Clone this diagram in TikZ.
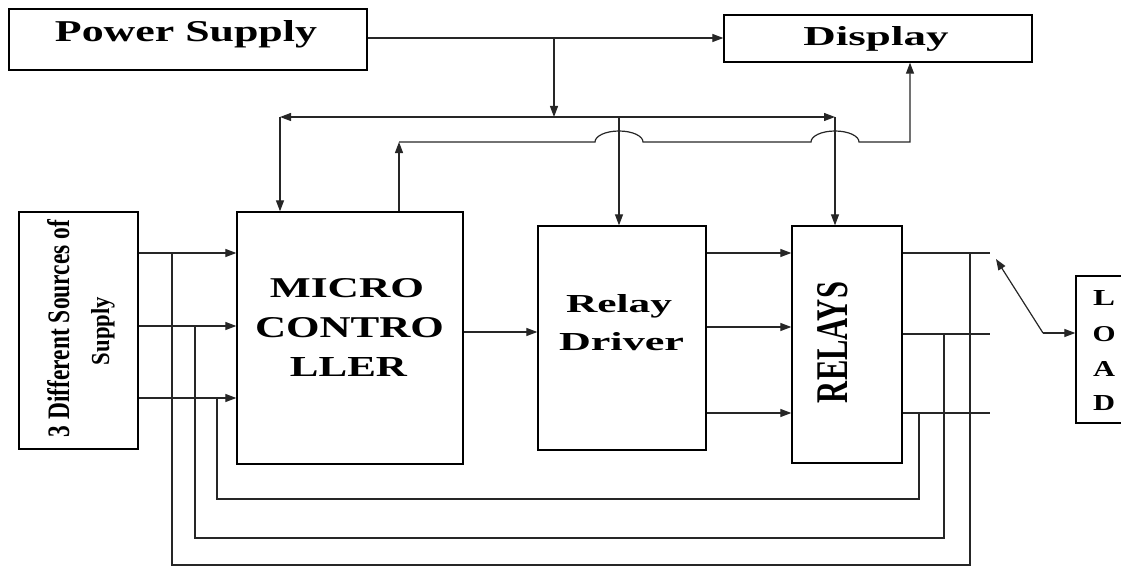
\documentclass[tikz,border=0pt]{standalone}
\usepackage{fontspec}
\setmainfont{Liberation Serif}
\usetikzlibrary{arrows.meta}
\begin{document}
\begin{tikzpicture}[x=1pt,y=-1pt,
  box/.style={draw, line width=1.3pt, inner sep=0pt, anchor=center},
  wire/.style={line width=1.2pt, black!85},
  arr/.style={wire, -{Triangle[length=11pt,width=8pt]}},
  txt/.style={font=\bfseries, inner sep=0pt, anchor=base}]
\useasboundingbox (0,0) rectangle (1121,567);
% boxes
\node[box, minimum width=358pt, minimum height=61pt] (ps) at (188,39.5) {};
\node[box, minimum width=308pt, minimum height=47pt] (disp) at (878,38.5) {};
\node[box, minimum width=119pt, minimum height=237pt] (src) at (78.5,330.5) {};
\node[box, minimum width=226pt, minimum height=252pt] (mc) at (350,338) {};
\node[box, minimum width=168pt, minimum height=224pt] (rd) at (622,338) {};
\node[box, minimum width=110pt, minimum height=237pt] (rel) at (847,344.5) {};
\node[box, minimum width=60pt, minimum height=147pt] (load) at (1106,349.5) {};
% texts
\node[txt] (tps) at (186,42) {\resizebox{262pt}{21pt}{Power Supply}};
\node[txt] (tdisp) at (876,46) {\resizebox{145pt}{19pt}{Display}};
\node[txt] (tmc1) at (347,297) {\resizebox{154pt}{19pt}{MICRO}};
\node[txt] (tmc2) at (349.5,337) {\resizebox{189pt}{20pt}{CONTRO}};
\node[txt] (tmc3) at (348.5,376) {\resizebox{117pt}{19pt}{LLER}};
\node[txt] (trd1) at (619,312) {\resizebox{106pt}{18pt}{Relay}};
\node[txt] (trd2) at (621.5,350) {\resizebox{125pt}{18pt}{Driver}};
\node[txt, rotate=90] (trel) at (847,342.5) {\resizebox{121pt}{30pt}{RELAYS}};
\node[txt, rotate=90] (tsrc1) at (69,328.5) {\resizebox{217pt}{22pt}{3 Different Sources of}};
\node[txt, rotate=90] (tsrc2) at (109,331) {\resizebox{68pt}{18pt}{Supply}};
\node[txt] (tl1) at (1104,305) {\resizebox{22pt}{15pt}{L}};
\node[txt] (tl2) at (1104,341) {\resizebox{23pt}{15pt}{O}};
\node[txt] (tl3) at (1104,376) {\resizebox{22pt}{15pt}{A}};
\node[txt] (tl4) at (1104,410) {\resizebox{22pt}{15pt}{D}};
% coordinates
\coordinate (psj) at (554,38);
\coordinate (busL) at (280,117);
\coordinate (busM) at (554,117);
\coordinate (busD) at (619,117);
\coordinate (busR) at (835,117);
\coordinate (mcup) at (399,142);
\coordinate (hop1) at (595,142);
\coordinate (hop2) at (811,142);
\coordinate (dispin) at (910,142);
\coordinate (in1) at (172,253);
\coordinate (in2) at (195,326);
\coordinate (in3) at (217,398);
\coordinate (o1) at (990,253);
\coordinate (o2) at (990,334);
\coordinate (o3) at (990,413);
\coordinate (f1) at (970,253);
\coordinate (f2) at (944,334);
\coordinate (f3) at (919,413);
\coordinate (swpiv) at (1043,333);
\coordinate (swtip) at (996,259);
% power supply connections
\draw[arr] (ps.east |- psj) -- (disp.west |- psj);
\draw[arr] (psj) -- (busM);
\draw[arr] (busM) -- (busL);
\draw[arr] (busL) -- (busL |- mc.north);
\draw[arr] (busM) -- (busR);
\draw[arr] (busR) -- (busR |- rel.north);
\draw[arr] (busD) -- (busD |- rd.north);
% micro to display with hops
\draw[arr] (mcup |- mc.north) -- (mcup);
\draw[arr] (mcup) -- (hop1) arc[start angle=180, end angle=360, x radius=24, y radius=11]
  -- (hop2) arc[start angle=180, end angle=360, x radius=24, y radius=11]
  -- (dispin) -- (dispin |- disp.south);
% sources to micro
\draw[arr] (src.east |- in1) -- (mc.west |- in1);
\draw[arr] (src.east |- in2) -- (mc.west |- in2);
\draw[arr] (src.east |- in3) -- (mc.west |- in3);
% micro to relay driver
\draw[arr] (mc.east |- 0,332) -- (rd.west |- 0,332);
% relay driver to relays
\draw[arr] (rd.east |- 0,253) -- (rel.west |- 0,253);
\draw[arr] (rd.east |- 0,327) -- (rel.west |- 0,327);
\draw[arr] (rd.east |- 0,413) -- (rel.west |- 0,413);
% relay outputs
\draw[wire] (rel.east |- o1) -- (o1);
\draw[wire] (rel.east |- o2) -- (o2);
\draw[wire] (rel.east |- o3) -- (o3);
% feedback loops
\draw[wire] (f1) |- (0,565 -| in1) -- (in1);
\draw[wire] (f2) |- (0,538 -| in2) -- (in2);
\draw[wire] (f3) |- (0,499 -| in3) -- (in3);
% switch
\draw[arr] (swpiv) -- (swtip);
\draw[arr] (swpiv) -- (swpiv -| load.west);
\end{tikzpicture}
\end{document}
